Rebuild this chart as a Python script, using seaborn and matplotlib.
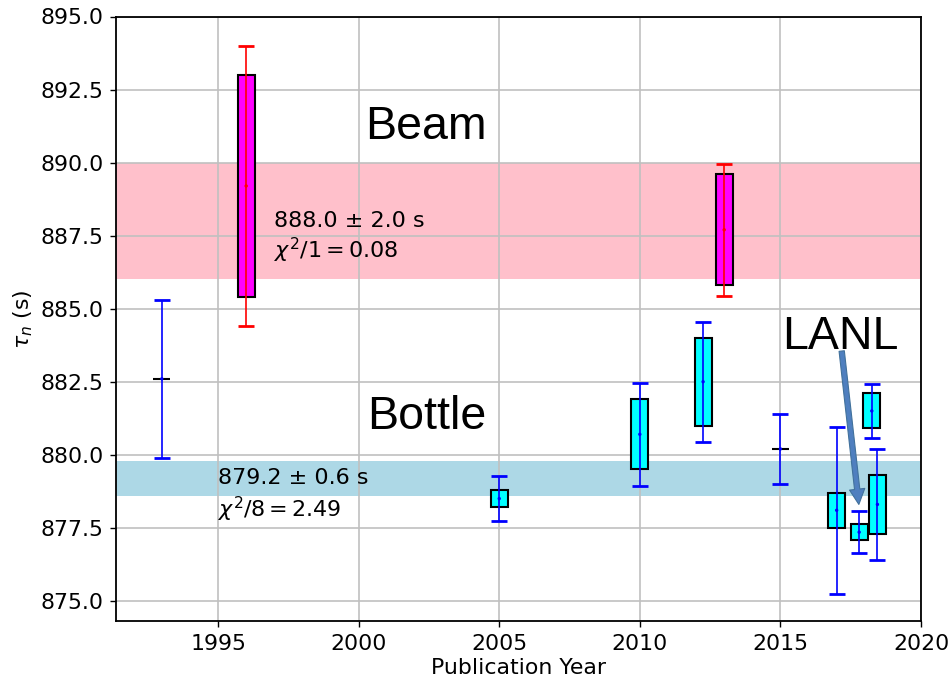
import numpy as np
import pandas as pd
import matplotlib
matplotlib.use("Agg")
import matplotlib.pyplot as plt
import seaborn as sns

# ---- data ----
bottle_year = [1993, 2005, 2010, 2012.25, 2015, 2017, 2017.8, 2018.25, 2018.45]
bottle_tau = [882.6, 878.5, 880.7, 882.5, 880.2, 878.1, 877.35, 881.5, 878.3]
bottle_sys = [0.0, 0.3, 1.2, 1.5, 0.0, 0.6, 0.28, 0.6, 1.0]
bottle_err = [2.7, 0.76, 1.77, 2.05, 1.2, 2.86, 0.71, 0.92, 1.89]

beam_year = [1996, 2013]
beam_tau = [889.2, 887.7]
beam_sys = [3.8, 1.9]
beam_err = [4.8, 2.25]

beam_avg, beam_avg_err = 888.0, 2.0
bottle_avg, bottle_avg_err = 879.2, 0.6
beam_chi_label = r"$\chi^2/1 = 0.08$"
bottle_chi_label = r"$\chi^2/8 = 2.49$"

x_ticks = [1995, 2000, 2005, 2010, 2015, 2020]
y_ticks = [875.0, 877.5, 880.0, 882.5, 885.0, 887.5, 890.0, 892.5, 895.0]

bottle_df = pd.DataFrame({"year": bottle_year, "tau": bottle_tau,
                          "sys": bottle_sys, "err": bottle_err})
beam_df = pd.DataFrame({"year": beam_year, "tau": beam_tau,
                        "sys": beam_sys, "err": beam_err})

sns.set_style("whitegrid", {"axes.edgecolor": "black", "grid.color": "#c0c0c0",
                            "xtick.bottom": True, "ytick.left": True,
                            "text.color": "black", "axes.labelcolor": "black",
                            "xtick.color": "black", "ytick.color": "black"})
plt.rcParams["font.family"] = ["DejaVu Sans"]

fig = plt.figure(figsize=(9.51, 6.83), dpi=100)
ax = fig.add_axes([116 / 951, (683 - 621.3) / 683, (921 - 116) / 951, (621.3 - 16.5) / 683])
ax.set_axisbelow(True)

# bands
ax.axhspan(beam_avg - beam_avg_err, beam_avg + beam_avg_err, color="pink", zorder=0, lw=0)
ax.axhspan(bottle_avg - bottle_avg_err, bottle_avg + bottle_avg_err, color="lightblue", zorder=0, lw=0)

box_w = 0.6
for df, fc, ec in [(bottle_df, "cyan", "blue"), (beam_df, "magenta", "red")]:
    ax.bar(df["year"], 2 * df["sys"], bottom=df["tau"] - df["sys"], width=box_w,
           color=fc, edgecolor="black", linewidth=1.5, zorder=2)
    ax.errorbar(df["year"], df["tau"], yerr=df["err"], fmt="none", ecolor=ec,
                elinewidth=1.2, capsize=5.8, capthick=2.0, zorder=3)
    sns.scatterplot(data=df, x="year", y="tau", ax=ax, color=ec, s=6,
                    edgecolor="none", zorder=4)

ax.set_xlim(1991.37, 2020)
ax.set_ylim(874.3, 895)
ax.set_xticks(x_ticks)
ax.set_yticks(y_ticks)
ax.set_yticklabels([f"{v:.1f}" for v in y_ticks])
ax.tick_params(labelsize=15.8, length=4, width=1, color="black", labelcolor="black", pad=5)
ax.grid(True, lw=1.2)
for s in ax.spines.values():
    s.set_linewidth(1.3)
    s.set_color("black")

ax.set_xlabel("Publication Year", fontsize=15.8, labelpad=3, color="black")
ax.set_ylabel(r"$\tau_n$ (s)", fontsize=15.8, labelpad=4, color="black")

big = dict(fontsize=33.5, family="Liberation Sans", ha="left", va="baseline",
           zorder=5, color="black")
ax.text(2000.22, 890.8, "Beam", **big)
ax.text(2000.3, 880.87, "Bottle", **big)
ax.text(2015.05, 883.61, "LANL", **big)

small = dict(fontsize=16, ha="left", va="baseline", zorder=5, color="black")
ax.text(1997.0, 887.8, f"{beam_avg:.1f} ± {beam_avg_err:.1f} s", **small)
ax.text(1997.0, 886.72, beam_chi_label, **small)
ax.text(1995.0, 878.99, f"{bottle_avg:.1f} ± {bottle_avg_err:.1f} s", **small)
ax.text(1995.0, 877.88, bottle_chi_label, **small)

ax.annotate("", xy=(2017.79, 878.3), xytext=(2017.18, 883.55),
            arrowprops=dict(facecolor="#4f7fbf", edgecolor="#41719c", width=3.8,
                            headwidth=11, headlength=11, shrink=0, lw=0.8),
            zorder=6)

fig.savefig("out.png", dpi=100)
